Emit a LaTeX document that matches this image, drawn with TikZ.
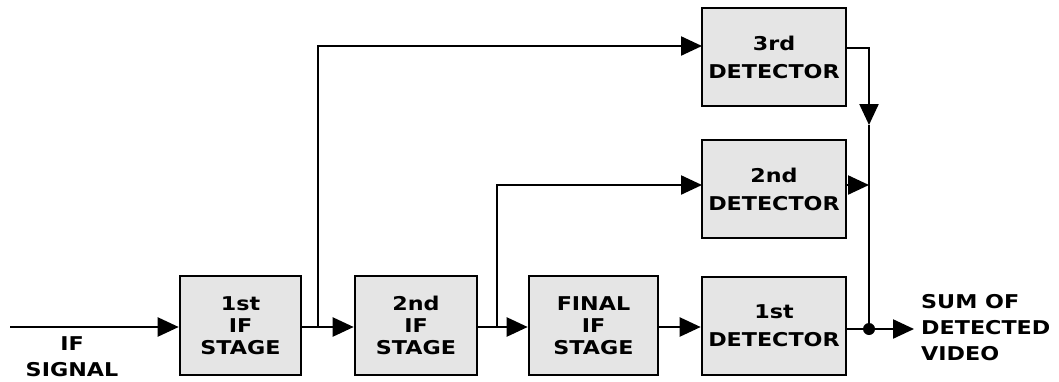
\documentclass[tikz,border=0pt]{standalone}
\usepackage{fontspec}
\setmainfont{DejaVu Sans}
\newfontfamily\blkfont[FakeStretch=1.17]{DejaVu Sans}
\usetikzlibrary{arrows.meta,calc}
\begin{document}
\begin{tikzpicture}[x=1pt,y=-1pt,
  blk/.style={draw=black,line width=2.6pt,fill=black!10,inner sep=0pt,align=center,
    font=\blkfont\bfseries\fontsize{19}{22}\selectfont},
  det/.style={blk,font=\blkfont\bfseries\fontsize{19}{28}\selectfont},
  wire/.style={line width=2.3pt},
  arr/.style={wire,-{Triangle[length=21pt,width=19pt]}},
  lbl/.style={font=\blkfont\bfseries\fontsize{19}{26}\selectfont,align=left,inner sep=0pt}]
\useasboundingbox[fill=white] (0,0) rectangle (1059,381);
% blocks
\node[blk,minimum width=121pt,minimum height=99pt] (s1) at (240.5,325.5) {1st\\IF\\STAGE};
\node[blk,minimum width=122pt,minimum height=99pt] (s2) at (416,325.5) {2nd\\IF\\STAGE};
\node[blk,minimum width=129pt,minimum height=99pt] (s3) at (593.5,325.5) {FINAL\\IF\\STAGE};
\node[det,minimum width=144pt,minimum height=98pt] (d1) at (774,326) {1st\\DETECTOR};
\node[det,minimum width=144pt,minimum height=98pt] (d2) at (774,189) {2nd\\DETECTOR};
\node[det,minimum width=144pt,minimum height=98pt] (d3) at (774,57) {3rd\\DETECTOR};
% coordinates
\coordinate (in) at (10,327);
\coordinate (b1) at (318,327);
\coordinate (b2) at (497,327);
\coordinate (i3) at (702,46);
\coordinate (i2) at (702,185);
\coordinate (o3) at (846,48);
\coordinate (c3) at (869,48);
\coordinate (t3) at (869,125);
\coordinate (t2) at (869,185);
\coordinate (j) at (869,329);
\coordinate (out) at (914,329);
% connectors
\draw[arr] (in) -- (s1.west |- in);
\draw[arr] (s1.east |- b1) -- (s2.west |- b1);
\draw[arr] (s2.east |- b2) -- (s3.west |- b2);
\draw[arr] (s3.east |- in) -- (d1.west |- in);
\draw[arr] (b1) |- (i3);
\draw[arr] (b2) |- (i2);
\draw[arr] (o3) -- (c3) -- (t3);
\draw[wire] (t3) -- (j);
\draw[arr] (d2.east |- t2) -- (t2);
\draw[arr] (d1.east |- j) -- (out);
\fill (j) circle (6pt);
% labels
\node[lbl,align=center] (sig) at (72,357) {IF\\SIGNAL};
\node[lbl,anchor=west] (sum) at (921,328) {SUM OF\\DETECTED\\VIDEO};
\end{tikzpicture}
\end{document}
